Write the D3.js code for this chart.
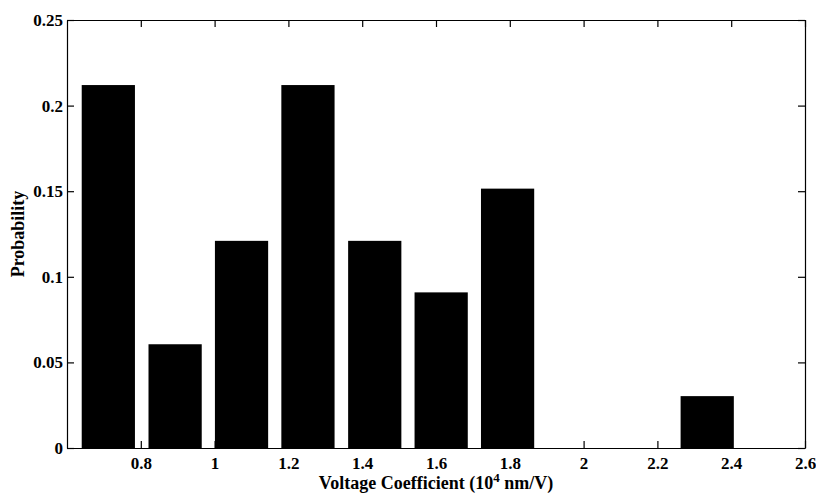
<!DOCTYPE html>
<html>
<head>
<meta charset="utf-8">
<script src="https://cdn.jsdelivr.net/npm/d3@7"></script>
<style>
  body { margin: 0; background: #fff; }
  text { font-family: "Liberation Serif", "Times New Roman", serif; font-weight: bold; fill: #000; }
</style>
</head>
<body>
<div id="chart"></div>
<script>
const svgWidth = 816;
const svgHeight = 495;

const margin = { top: 20, right: 11, bottom: 47, left: 67 };

const width = svgWidth - margin.left - margin.right;
const height = svgHeight - margin.top - margin.bottom;

// bin centres (10^4 nm/V) and probabilities
const binCenters = [0.712, 0.893, 1.073, 1.253, 1.434, 1.614, 1.794, 1.975, 2.155, 2.335];
const probability = [0.212, 0.0606, 0.121, 0.212, 0.121, 0.0909, 0.1515, 0, 0, 0.0303];
const binWidth = 0.1803;

const xTicks = [0.8, 1, 1.2, 1.4, 1.6, 1.8, 2, 2.2, 2.4, 2.6];
const yTicks = [0, 0.05, 0.1, 0.15, 0.2, 0.25];

const svg = d3.select("#chart")
  .append("svg")
  .attr("width", svgWidth)
  .attr("height", svgHeight);

const chartGroup = svg.append("g")
  .attr("transform", `translate(${margin.left}, ${margin.top})`);

const xScale = d3.scaleLinear()
  .domain([0.6, 2.6])
  .range([0, width]);

const yScale = d3.scaleLinear()
  .domain([0, 0.25])
  .range([height, 0]);

// bars (matlab hist style, 0.8 of bin width)
chartGroup.selectAll("rect.bar")
  .data(binCenters)
  .join("rect")
  .attr("class", "bar")
  .attr("x", d => xScale(d - binWidth * 0.4))
  .attr("width", d => xScale(d + binWidth * 0.4) - xScale(d - binWidth * 0.4))
  .attr("y", (d, i) => yScale(probability[i]))
  .attr("height", (d, i) => height - yScale(probability[i]))
  .attr("fill", "#000");

// axes with inward ticks
const tickLen = 7;

const bottomAxis = d3.axisBottom(xScale).tickValues(xTicks).tickSizeInner(-tickLen).tickSizeOuter(0).tickPadding(9)
  .tickFormat(d3.format("~g"));
const topAxis = d3.axisTop(xScale).tickValues(xTicks).tickSizeInner(-tickLen).tickSizeOuter(0).tickFormat("");
const leftAxis = d3.axisLeft(yScale).tickValues(yTicks).tickSizeInner(-tickLen).tickSizeOuter(0).tickPadding(4)
  .tickFormat(d3.format("~g"));
const rightAxis = d3.axisRight(yScale).tickValues(yTicks).tickSizeInner(-tickLen).tickSizeOuter(0).tickFormat("");

chartGroup.append("g").attr("transform", `translate(0, ${height})`).call(bottomAxis);
chartGroup.append("g").call(topAxis);
chartGroup.append("g").call(leftAxis);
chartGroup.append("g").attr("transform", `translate(${width}, 0)`).call(rightAxis);

chartGroup.selectAll(".domain").attr("stroke", "#000").attr("stroke-width", 1.2);
chartGroup.selectAll(".tick line").attr("stroke", "#000").attr("stroke-width", 1.2);
chartGroup.selectAll(".tick text")
  .attr("font-family", "Liberation Serif, Times New Roman, serif")
  .attr("font-weight", "bold")
  .attr("font-size", 17)
  .attr("fill", "#000");

// axis labels
const xLabel = chartGroup.append("text")
  .attr("x", width / 2)
  .attr("y", height + 41)
  .attr("text-anchor", "middle")
  .attr("font-size", 18);
xLabel.append("tspan").text("Voltage Coefficient (10");
xLabel.append("tspan").attr("dy", -7).attr("font-size", 13).text("4");
xLabel.append("tspan").attr("dy", 7).text(" nm/V)");

chartGroup.append("text")
  .attr("transform", "rotate(-90)")
  .attr("x", -height / 2)
  .attr("y", -margin.left + 24)
  .attr("text-anchor", "middle")
  .attr("font-size", 18)
  .text("Probability");
</script>
</body>
</html>
